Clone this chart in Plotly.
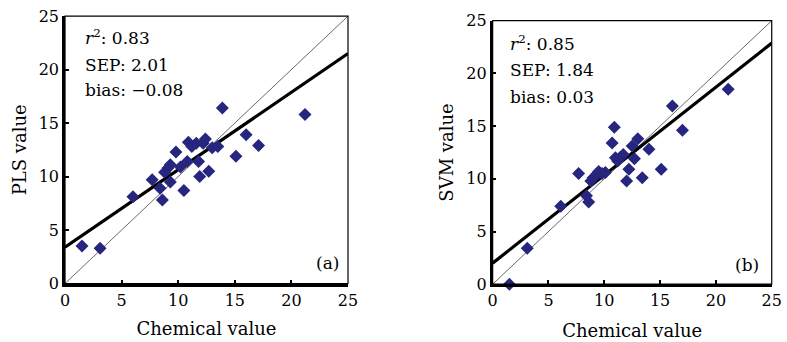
import plotly.graph_objects as go

# ---- data ----
pls_x = [1.5, 3.1, 6.0, 7.7, 8.4, 8.6, 8.8, 9.1, 9.3, 9.3, 9.8, 10.2, 10.5, 10.8, 10.9,
         11.2, 11.6, 11.8, 11.9, 12.2, 12.4, 12.7, 13.0, 13.5, 13.9, 15.1, 16.0, 17.1, 21.2]
pls_y = [3.5, 3.3, 8.1, 9.7, 8.9, 7.8, 10.4, 10.8, 11.1, 9.5, 12.3, 10.9, 8.7, 11.4, 13.2,
         12.8, 13.1, 11.4, 10.0, 13.1, 13.5, 10.5, 12.7, 12.8, 16.4, 11.9, 13.9, 12.9, 15.8]
svm_x = [1.5, 3.1, 6.1, 7.7, 8.4, 8.6, 8.8, 9.0, 9.3, 9.5, 9.8, 10.1, 10.7, 10.9, 11.0,
         11.2, 11.4, 11.7, 12.0, 12.2, 12.5, 12.7, 13.0, 13.4, 14.0, 15.1, 16.1, 17.0, 21.1]
svm_y = [0.0, 3.4, 7.4, 10.5, 8.4, 7.8, 9.8, 10.1, 10.4, 10.7, 10.5, 10.6, 13.4, 14.9, 12.0,
         11.7, 12.0, 12.3, 9.8, 10.9, 13.1, 11.9, 13.8, 10.1, 12.8, 10.9, 16.9, 14.6, 18.5]
pls_fit = {"intercept": 3.4, "slope": 0.724}
svm_fit = {"intercept": 2.0, "slope": 0.835}
pls_stats = ["<i>r</i><sup>2</sup>: 0.83", "SEP: 2.01", "bias: \u22120.08"]
svm_stats = ["<i>r</i><sup>2</sup>: 0.85", "SEP: 1.84", "bias: 0.03"]
ticks = [0, 5, 10, 15, 20, 25]
line_x = [0, 25]

FONT = "DejaVu Serif"
MARK = "#26267e"

fig = go.Figure()

def add_panel(xs, ys, fit, xa, ya):
    fig.add_trace(go.Scatter(x=line_x, y=line_x, mode="lines",
                             line=dict(color="#444", width=0.8),
                             xaxis=xa, yaxis=ya, showlegend=False, hoverinfo="skip"))
    fig.add_trace(go.Scatter(x=line_x, y=[fit["intercept"] + fit["slope"] * v for v in line_x],
                             mode="lines", line=dict(color="black", width=3.2),
                             xaxis=xa, yaxis=ya, showlegend=False, cliponaxis=False))
    fig.add_trace(go.Scatter(x=xs, y=ys, mode="markers",
                             marker=dict(symbol="diamond", size=10, color=MARK),
                             xaxis=xa, yaxis=ya, showlegend=False, cliponaxis=False))

add_panel(pls_x, pls_y, pls_fit, "x", "y")
add_panel(svm_x, svm_y, svm_fit, "x2", "y2")

axis_common = dict(range=[0, 25], tickvals=ticks, showgrid=False, zeroline=False,
                   showline=True, linecolor="black", linewidth=2.6, automargin=False,
                   ticks="inside", ticklen=4, tickwidth=2, tickcolor="black",
                   tickfont=dict(family=FONT, size=16, color="black"))
title_font = dict(family=FONT, size=18, color="black")

fig.update_layout(
    width=787, height=342, paper_bgcolor="white", plot_bgcolor="white",
    margin=dict(l=0, r=0, t=0, b=0),
    xaxis=dict(domain=[0.0826, 0.4422], anchor="y",
               title=dict(text="Chemical value", font=title_font, standoff=14),
               **axis_common),
    yaxis=dict(domain=[0.171, 0.953], anchor="x",
               title=dict(text="PLS value", font=title_font, standoff=8),
               **axis_common),
    xaxis2=dict(domain=[0.626, 0.9806], anchor="y2",
                title=dict(text="Chemical value", font=title_font, standoff=16),
                **axis_common),
    yaxis2=dict(domain=[0.169, 0.9395], anchor="x2",
                title=dict(text="SVM value", font=title_font, standoff=8),
                **axis_common),
)

# thin frame
for xa, ya in (("x", "y"), ("x2", "y2")):
    fig.add_shape(type="rect", xref=f"{xa} domain", yref=f"{ya} domain",
                  x0=0, x1=1, y0=0, y1=1, line=dict(color="black", width=1.2), layer="above")

# stats text
for stats, xa, ya, x0, ys in ((pls_stats, "x", "y", 1.6, [23.0, 20.45, 18.1]),
                              (svm_stats, "x2", "y2", 1.4, [22.9, 20.3, 17.8])):
    for t, yy in zip(stats, ys):
        fig.add_annotation(x=x0, y=yy, xref=xa, yref=ya, text=t, showarrow=False,
                           xanchor="left", yanchor="middle",
                           font=dict(family=FONT, size=17, color="black"))

fig.add_annotation(x=23.2, y=1.9, xref="x", yref="y", text="(a)", showarrow=False,
                   font=dict(family=FONT, size=17, color="black"))
fig.add_annotation(x=22.8, y=1.8, xref="x2", yref="y2", text="(b)", showarrow=False,
                   font=dict(family=FONT, size=17, color="black"))

fig.write_html("out.html", config={"displayModeBar": False},
               post_script="document.body.style.margin='0px';document.body.style.overflow='hidden';")
